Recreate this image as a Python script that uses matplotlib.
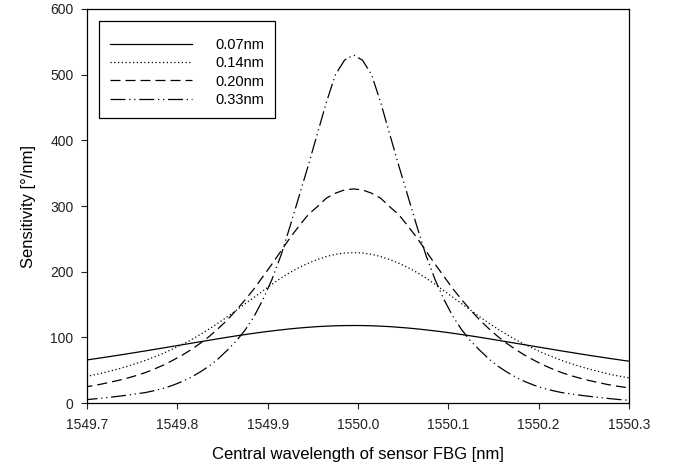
import numpy as np
import matplotlib
matplotlib.use("Agg")
import matplotlib.pyplot as plt

plt.rcParams['font.family'] = ['Liberation Sans', 'DejaVu Sans']

# wavelength grid (nm); curves centred near 1549.995 nm
wavelength = [round(1549.695 + 0.01 * k, 3) for k in range(62)]

# sensitivity (deg/nm) read at |offset| = 0.00, 0.01, ..., 0.31 nm from the centre
half_007 = [118.0, 117.9, 117.6, 117.0, 116.3, 115.3, 114.2, 112.9, 111.4, 109.8,
            108.1, 106.2, 104.2, 102.2, 100.0, 97.8, 95.5, 93.2, 90.9, 88.6,
            86.3, 84.0, 81.7, 79.4, 77.2, 75.0, 72.8, 70.7, 68.6, 66.6, 64.6, 62.7]
half_014 = [229, 228.3, 226.5, 223, 218.5, 213, 206.5, 199, 190.5, 181,
            171, 161, 151, 141, 131, 121.5, 112.5, 104, 96, 89,
            82.5, 76, 70.5, 65, 60.5, 56, 52, 48.5, 45, 42, 39.5, 37]
half_020 = [326, 324.5, 319.5, 312, 299, 287, 270, 252, 232, 212,
            193, 174, 157, 141, 126, 113, 101, 90.5, 81, 72.5,
            65, 58, 52, 46.5, 42, 38, 34.5, 31.5, 28.5, 26, 24, 22]
half_033 = [530, 522, 500, 458, 410, 362, 316, 270, 226, 189,
            158, 132, 111, 94, 80, 67, 56, 47, 39, 32.5,
            27, 22.5, 19, 16, 14, 12, 10.3, 8.7, 7.2, 5.8, 4.6, 3.6]

labels = ['0.07nm', '0.14nm', '0.20nm', '0.33nm']
xticks = [1549.7, 1549.8, 1549.9, 1550.0, 1550.1, 1550.2, 1550.3]
yticks = [0, 100, 200, 300, 400, 500, 600]


def full(half):
    # left side |d| = 0.30 .. 0.01, then right side 0.00 .. 0.31
    return list(reversed(half[1:31])) + half


series = [full(half_007), full(half_014), full(half_020), full(half_033)]
styles = ['-', (0, (1, 2)), (0, (8, 4)), (0, (12, 3, 1, 3, 1, 3))]

fig = plt.figure(figsize=(6.75, 4.65), dpi=100)
ax = fig.add_axes([87 / 675, 1 - 403 / 465, (629 - 87) / 675, (403 - 9) / 465])

for y, ls, lab in zip(series, styles, labels):
    ax.plot(wavelength, y, color='black', lw=0.9, linestyle=ls, label=lab)

ax.set_xlim(1549.7, 1550.3)
ax.set_ylim(0, 600)
ax.set_xticks(xticks)
ax.set_xticklabels([f'{v:.1f}' for v in xticks])
ax.set_yticks(yticks)
ax.tick_params(direction='out', length=4.5, width=0.8, labelsize=10, colors='#222222')
ax.tick_params(axis='x', pad=6)
ax.tick_params(axis='y', pad=5.3)
for s in ax.spines.values():
    s.set_linewidth(0.9)

ax.set_xlabel('Central wavelength of sensor FBG [nm]', fontsize=12, labelpad=11)
ax.set_ylabel('Sensitivity [°/nm]', fontsize=12, labelpad=10)

leg = ax.legend(loc='upper left', bbox_to_anchor=(12 / 542, 1 - 12.5 / 394),
                frameon=True, fancybox=False, edgecolor='black', framealpha=1,
                fontsize=10.5, handlelength=5.6, handletextpad=1.6,
                borderpad=0.75, labelspacing=0.3, borderaxespad=0,
                title=' ', title_fontsize=1.5)
leg.get_frame().set_linewidth(0.9)

fig.savefig('out.png', dpi=100)
